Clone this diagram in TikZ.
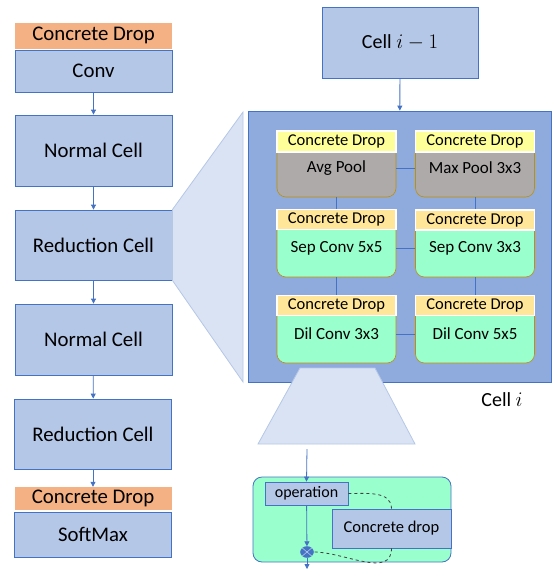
\documentclass[tikz,border=0pt]{standalone}
\usepackage{fontspec}
\setmainfont{Carlito}
\usetikzlibrary{arrows.meta, positioning, calc, shapes.geometric}
\definecolor{boxblue}{RGB}{180, 199, 231}
\definecolor{lineblue}{RGB}{68, 114, 196}
\definecolor{cellblue}{RGB}{143, 170, 220}
\definecolor{zoomblue}{RGB}{218, 227, 243}
\definecolor{dropor}{RGB}{244, 177, 131}
\definecolor{dropyel}{RGB}{255, 255, 153}
\definecolor{dropgold}{RGB}{255, 230, 153}
\definecolor{poolgray}{RGB}{174, 170, 170}
\definecolor{opgreen}{RGB}{153, 255, 204}
\definecolor{goldline}{RGB}{191, 144, 0}

\begin{document}
\begin{tikzpicture}[x=1pt, y=-1pt,
        blk/.style={rectangle, draw=lineblue, fill=boxblue, line width=0.8pt, minimum width=157pt, font=\fontsize{20.8}{22}\selectfont},
        odrop/.style={rectangle, fill=dropor, minimum width=157pt, minimum height=26pt, inner sep=0pt, font=\fontsize{20.8}{22}\selectfont},
        opbody/.style={rectangle, rounded corners=9pt, draw=goldline, line width=0.6pt, minimum width=119pt, minimum height=58pt, inner sep=0pt, font=\fontsize{17}{18}\selectfont},
        ydrop/.style={rectangle, draw=white, line width=1.2pt, minimum width=119pt, minimum height=20pt, inner sep=0pt, font=\fontsize{16.5}{18}\selectfont},
        conn/.style={lineblue, line width=0.8pt},
        arr/.style={lineblue, line width=0.8pt, -{Triangle[length=5pt, width=5pt]}},
        zoomarea/.style={fill=zoomblue, draw=boxblue, line width=0.8pt},
        dashln/.style={dashed, black!75, line width=0.8pt}
      ]
        \useasboundingbox (0,0) rectangle (553,571);
        % left column
        \node[odrop] (cdtop) at (93.5, 35.5) {Concrete Drop};
        \node[blk, minimum height=42pt] (conv) at (93.5, 71) {Conv};
        \node[blk, minimum height=71pt] (norm1) at (93.5, 150.5) {Normal Cell};
        \node[blk, minimum height=70pt] (red1) at (93.5, 245) {Reduction Cell};
        \node[blk, minimum height=71pt] (norm2) at (93.5, 339.5) {Normal Cell};
        \node[blk, minimum height=70pt] (red2) at (93, 434) {Reduction Cell};
        \node[odrop, minimum height=23pt] (cdbot) at (93, 498.5) {Concrete Drop};
        \node[blk, minimum height=45pt] (softmax) at (93, 534.5) {SoftMax};
        \draw[arr] (conv) -- (norm1);
        \draw[arr] (norm1) -- (red1);
        \draw[arr] (red1) -- (norm2);
        \draw[arr] (norm2) -- (red2);
        \draw[arr] (red2) -- (cdbot);
        % zoom on reduction cell
        \fill[zoomarea] (red1.north east) -- (243,112) -- (243,382) -- (red1.south east) -- cycle;
        % cell i
        \node[blk, minimum width=156pt, minimum height=71pt, font=\fontsize{20}{22}\selectfont] (prev) at (400, 42.5) {Cell $i-1$};
        \node[rectangle, draw=lineblue, fill=cellblue, line width=0.8pt, minimum width=303pt, minimum height=271pt] (cell) at (399.5, 246.5) {};
        \node[font=\fontsize{20}{22}\selectfont, anchor=center] (celllbl) at (502, 400) {Cell $i$};
        \draw[arr] (prev) -- (cell);
        \node[opbody, fill=poolgray] (avg) at (336.5, 168) {Avg Pool};
        \node[opbody, fill=poolgray] (maxp) at (475, 168) {Max Pool 3x3};
        \node[opbody, fill=opgreen] (sep5) at (336.5, 248) {Sep Conv 5x5};
        \node[opbody, fill=opgreen] (sep3) at (475, 248) {Sep Conv 3x3};
        \node[opbody, fill=opgreen] (dil3) at (336.5, 334) {Dil Conv 3x3};
        \node[opbody, fill=opgreen] (dil5) at (475, 334) {Dil Conv 5x5};
        \node[ydrop, fill=dropyel, minimum height=21pt] (cd1) at (336.5, 141.5) {Concrete Drop};
        \node[ydrop, fill=dropyel, minimum height=21pt] (cd2) at (475, 141.5) {Concrete Drop};
        \node[ydrop, fill=dropgold] (cd3) at (336.5, 219.5) {Concrete Drop};
        \node[ydrop, fill=dropgold] (cd4) at (475, 220) {Concrete Drop};
        \node[ydrop, fill=dropgold] (cd5) at (336.5, 305.5) {Concrete Drop};
        \node[ydrop, fill=dropgold] (cd6) at (475, 305.5) {Concrete Drop};
        \draw[conn] (avg) -- (maxp);
        \draw[conn] (sep5) -- (sep3);
        \draw[conn] (dil3) -- (dil5);
        \draw[conn] (avg.south) -- (cd3.north);
        \draw[conn] (maxp.south) -- (cd4.north);
        \draw[conn] (sep5.south) -- (cd5.north);
        \draw[conn] (sep3.south) -- (cd6.north);
        % zoom on one operation
        \fill[zoomarea] (300,368) -- (375,368) -- (415,444) -- (258,444) -- cycle;
        \coordinate (zoomout) at (307,449);
        \node[rectangle, rounded corners=9pt, draw=lineblue, fill=opgreen, line width=0.8pt, minimum width=198pt, minimum height=85pt] (opbox) at (352, 519.5) {};
        \node[rectangle, draw=lineblue, fill=boxblue, line width=0.8pt, minimum width=83pt, minimum height=23pt, inner sep=0pt, font=\fontsize{16}{18}\selectfont] (oper) at (306.5, 493.5) {operation};
        \node[rectangle, draw=lineblue, fill=boxblue, line width=0.8pt, minimum width=119pt, minimum height=39pt, inner sep=0pt, font=\fontsize{16.5}{18}\selectfont] (cdrop) at (391.5, 528.5) {Concrete drop};
        \node[ellipse, draw=lineblue, fill=lineblue, minimum width=13pt, minimum height=11pt, inner sep=0pt] (mult) at (307, 552) {};
        \draw[white!60!lineblue, line width=0.6pt] (mult.north west) -- (mult.south east) (mult.north east) -- (mult.south west);
        \coordinate (out) at (307, 569);
        \draw[arr] (zoomout) -- (oper.north);
        \draw[arr] (oper) -- (mult);
        \draw[arr] (mult) -- (out);
        \draw[dashln] (oper.east) to[out=0, in=90] (cdrop.north);
        \draw[dashln] (cdrop.south) to[out=-90, in=0] (mult.east);
      \end{tikzpicture}
\end{document}
